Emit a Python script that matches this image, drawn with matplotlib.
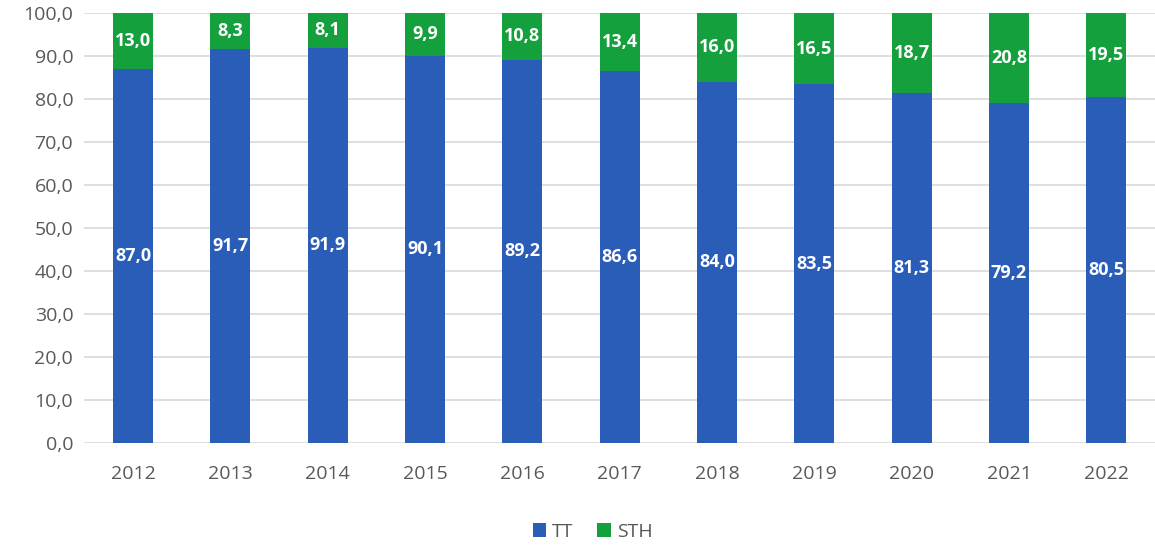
import numpy as np
import matplotlib.pyplot as plt

years = ["2012", "2013", "2014", "2015", "2016", "2017", "2018", "2019", "2020", "2021", "2022"]
tt = [87.0, 91.7, 91.9, 90.1, 89.2, 86.6, 84.0, 83.5, 81.3, 79.2, 80.5]
sth = [13.0, 8.3, 8.1, 9.9, 10.8, 13.4, 16.0, 16.5, 18.7, 20.8, 19.5]

plt.rcParams['font.family'] = ['Open Sans', 'DejaVu Sans']

blue = "#2a5db7"
green = "#14a03c"

fig = plt.figure(figsize=(11.55, 5.45), dpi=100)
ax = fig.add_axes([0.073, 0.187, 0.927, 0.789])

x = np.arange(len(years))
w = 0.41
b1 = ax.bar(x, tt, w, color=blue, label="TT", zorder=3)
b2 = ax.bar(x, sth, w, bottom=tt, color=green, label="STH", zorder=3)

fmt = lambda v: f"{v:.1f}".replace(".", ",")
for i in range(len(years)):
    ax.text(x[i], tt[i] / 2, fmt(tt[i]), ha="center", va="center",
            color="white", fontsize=13, fontweight="bold", zorder=4)
    ax.text(x[i], tt[i] + sth[i] / 2, fmt(sth[i]), ha="center", va="center",
            color="white", fontsize=13, fontweight="bold", zorder=4)

ax.set_ylim(0, 100)
ax.set_xlim(-0.5, len(years) - 0.5)
ax.set_yticks(np.arange(0, 101, 10))
ax.set_yticklabels([fmt(v) for v in np.arange(0, 101, 10)])
ax.set_xticks(x)
ax.set_xticklabels(years)
ax.tick_params(axis="both", length=0, labelsize=14, colors="#595959", pad=8)
ax.tick_params(axis="x", pad=16)
ax.grid(axis="y", color="#d9d9d9", linewidth=1.2, zorder=0)
for s in ax.spines.values():
    s.set_visible(False)

fig.legend(handles=[b1, b2], labels=["TT", "STH"], loc="lower center",
           bbox_to_anchor=(0.513, -0.024), ncol=2, frameon=False, fontsize=14,
           handlelength=0.7, handleheight=0.7, handletextpad=0.3, columnspacing=1.2,
           labelcolor="#595959")

fig.savefig("out.png", dpi=100)
